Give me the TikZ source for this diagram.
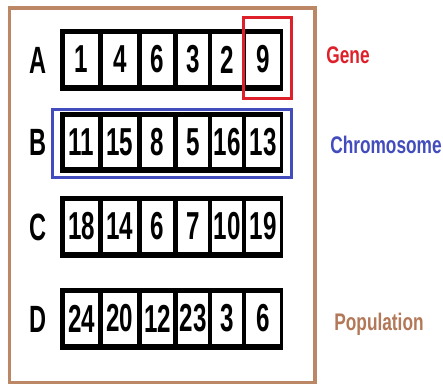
\documentclass[tikz,border=0pt]{standalone}
\usepackage{fontspec}
\newfontfamily\cellfont{Liberation Sans}[FakeStretch=0.62]
\newfontfamily\labfont{Liberation Sans}[FakeStretch=0.72]
\definecolor{framebrown}{RGB}{188,135,100}
\definecolor{popbrown}{RGB}{178,120,88}
\definecolor{genered}{RGB}{222,32,42}
\definecolor{chromblue}{RGB}{66,76,188}
\begin{document}
\begin{tikzpicture}[x=1pt,y=-1pt,
  cell/.style={fill=white, inner sep=0pt, anchor=center,
    font=\cellfont\bfseries\fontsize{39}{39}\selectfont},
  rowlabel/.style={inner sep=0pt, font=\cellfont\bfseries\fontsize{38}{38}\selectfont},
  sidelabel/.style={inner sep=0pt, font=\labfont\bfseries\fontsize{24}{24}\selectfont},
  bar/.style={fill=black}]
\useasboundingbox (0,0) rectangle (443,385);
\fill[white] (0,0) rectangle (443,385);
% population frame
\draw[framebrown, line width=3.5pt] (9.5,8) rectangle (315,382.5);
% chromosome box
\draw[chromblue, line width=3pt] (52.5,109) rectangle (291,177);
% rows
\foreach \r/\ybt/\ybb/\yct/\ycb/\vals in {
  A/29/91/34/85/{1,4,6,3,2,9},
  B/112/173/117/167/{11,15,8,5,16,13},
  C/196/258/201/252/{18,14,6,7,10,19},
  D/288/350/293/344/{24,20,12,23,3,6}}{
  \fill[bar] (60,\ybt) rectangle (283,\ybb);
  \node[rowlabel] (lab\r) at (38,{(\ybt+\ybb)/2}) {\r};
  \foreach \v [count=\i] in \vals {
    \pgfmathsetmacro{\xl}{{65,103,142,178,212,246}[\i-1]}
    \pgfmathsetmacro{\xr}{{98,137,173,208,242,280}[\i-1]}
    \node[cell, minimum width={(\xr-\xl)*1pt}, minimum height={(\ycb-\yct)*1pt}]
      (\r-\i) at ({(\xl+\xr)/2},{(\yct+\ycb)/2}) {\v};
  }
}
% gene box
\draw[genered, line width=3pt] (243.5,17.5) rectangle (291.5,98.5);
% side labels
\node[sidelabel, text=genered] (gene) at (348,55) {Gene};
\node[sidelabel, text=chromblue] (chrom) at (386,145) {Chromosome};
\node[sidelabel, text=popbrown] (pop) at (379,324) {Population};
\end{tikzpicture}
\end{document}
